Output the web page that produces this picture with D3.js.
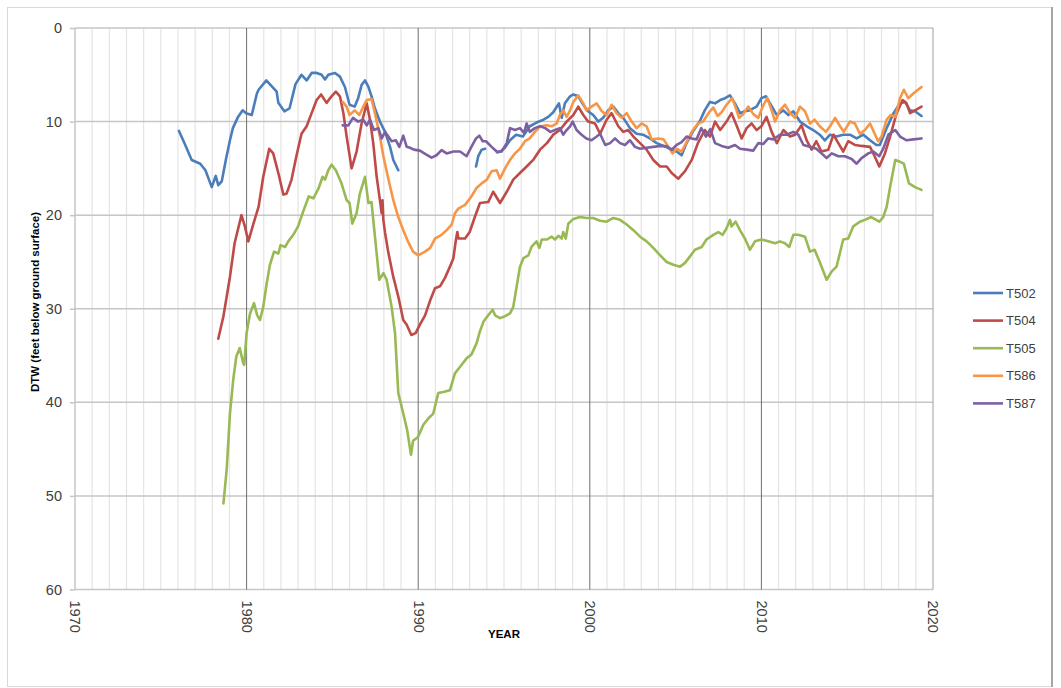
<!DOCTYPE html>
<html>
<head>
<meta charset="utf-8">
<script src="https://cdn.jsdelivr.net/npm/d3@7"></script>
<style>
  body { margin: 0; background: #fff; }
  svg { display: block; font-family: "Liberation Sans", Arial, sans-serif; }
</style>
</head>
<body>
<svg id="chart" width="1061" height="688"></svg>
<script>
// well names, in legend order
var wells = ["T502", "T504", "T505", "T586", "T587"];

// [year, depth to water in ft]; null = gap in record
var T502 = [
  [1976.06,11.0],[1976.4,12.4],[1976.8,14.1],[1977.3,14.5],[1977.6,15.2],[1977.97,17.0],[1978.2,15.8],
  [1978.35,16.8],[1978.55,16.4],[1978.8,14.0],[1979.03,12.0],[1979.2,10.7],[1979.5,9.5],[1979.77,8.8],
  [1979.97,9.1],[1980.3,9.3],[1980.6,7.0],[1980.7,6.6],[1981.15,5.6],[1981.5,6.3],[1981.75,6.8],
  [1981.85,8.0],[1982.2,8.9],[1982.5,8.6],[1982.85,6.0],[1983.2,5.0],[1983.5,5.6],[1983.79,4.8],
  [1984.08,4.8],[1984.37,5.0],[1984.57,5.5],[1984.76,5.0],[1985.15,4.8],[1985.44,5.2],[1985.73,6.3],
  [1986.0,8.2],[1986.3,8.4],[1986.5,7.5],[1986.7,6.1],[1986.9,5.6],[1987.1,6.3],[1987.28,7.3],
  [1987.48,8.6],[1987.77,10.0],[1988.07,11.1],[1988.36,12.7],[1988.55,14.1],[1988.84,15.2],
  null,
  [1993.37,14.8],[1993.5,13.7],[1993.7,13.0],[1993.9,12.9],
  null,
  [1994.6,13.3],[1994.8,13.2],[1995.05,12.8],[1995.35,12.0],[1995.7,11.4],[1996.1,11.6],[1996.5,10.5],
  [1996.9,10.1],[1997.3,9.8],[1997.58,9.5],[1997.87,9.0],[1998.2,8.05],[1998.36,9.6],[1998.55,8.05],
  [1998.85,7.3],[1999.04,7.1],[1999.33,7.3],[1999.62,8.2],[1999.9,8.9],[2000.2,9.3],[2000.5,10.0],
  [2000.78,9.6],[2001.07,8.8],[2001.37,8.4],[2001.66,9.1],[2001.95,9.6],[2002.34,10.7],[2002.73,11.3],
  [2003.1,11.4],[2003.5,11.8],[2003.9,12.3],[2004.3,12.6],[2004.67,12.9],[2005.06,13.2],[2005.35,13.6],
  [2005.64,12.3],[2006.03,11.0],[2006.4,10.0],[2006.7,8.8],[2007.0,7.9],[2007.3,8.05],[2007.6,7.7],
  [2007.88,7.5],[2008.17,7.2],[2008.46,8.05],[2008.75,9.1],[2009.04,8.9],[2009.3,8.8],[2009.72,8.4],
  [2010.0,7.5],[2010.27,7.3],[2010.5,8.05],[2010.9,9.3],[2011.28,8.8],[2011.57,9.3],[2011.86,8.9],
  [2012.25,10.0],[2012.64,10.5],[2013.02,10.9],[2013.4,11.4],[2013.7,12.0],[2014.0,11.4],[2014.38,11.6],
  [2014.77,11.4],[2015.16,11.4],[2015.55,11.8],[2015.94,11.4],[2016.33,12.0],[2016.7,12.5],[2016.9,12.5],
  [2017.3,10.7],[2017.7,9.1],[2018.08,8.05],[2018.37,7.9],[2018.66,8.8],[2018.95,8.9],[2019.33,9.4]
];

var T504 = [
  [1978.35,33.2],[1978.65,30.8],[1979.03,26.6],[1979.3,23.0],[1979.7,20.0],[1979.9,21.2],[1980.1,22.8],
  [1980.4,20.9],[1980.7,19.1],[1980.97,15.9],[1981.32,12.9],[1981.55,13.4],[1981.85,15.5],[1982.14,17.8],
  [1982.33,17.7],[1982.62,16.2],[1982.9,13.7],[1983.2,11.3],[1983.5,10.5],[1983.79,9.1],[1984.08,7.7],
  [1984.34,7.1],[1984.66,8.0],[1984.95,7.3],[1985.2,6.8],[1985.44,7.3],[1985.64,9.1],[1985.83,11.6],
  [1986.12,15.0],[1986.41,13.2],[1986.7,10.2],[1987.0,8.05],[1987.19,9.8],[1987.38,12.3],[1987.58,15.9],
  [1987.77,18.4],[1987.87,19.8],[1987.92,18.4],[1987.97,20.5],[1988.07,21.9],[1988.26,24.0],[1988.55,26.6],
  [1988.84,28.7],[1989.13,31.2],[1989.33,31.7],[1989.6,32.8],[1989.85,32.6],[1990.1,31.7],[1990.4,30.7],
  [1990.7,29.1],[1990.98,27.8],[1991.27,27.6],[1991.56,26.7],[1991.85,25.5],[1992.05,24.6],[1992.2,22.6],
  [1992.28,21.8],[1992.34,22.5],[1992.73,22.5],[1993.0,21.8],[1993.3,20.2],[1993.6,18.7],[1994.08,18.6],
  [1994.37,17.5],[1994.77,18.7],[1995.16,17.5],[1995.54,16.2],[1995.93,15.5],[1996.32,14.8],[1996.7,14.1],
  [1997.1,13.0],[1997.5,12.3],[1997.87,11.4],[1998.26,10.9],[1998.65,10.0],[1999.04,9.3],[1999.33,8.4],
  [1999.62,9.3],[1999.9,10.0],[2000.3,10.2],[2000.6,11.3],[2000.98,9.8],[2001.27,9.1],[2001.66,10.5],
  [2001.95,11.1],[2002.24,10.9],[2002.54,11.6],[2002.93,12.3],[2003.31,13.0],[2003.7,14.1],[2004.1,14.8],
  [2004.48,14.8],[2004.77,15.5],[2005.16,16.1],[2005.55,15.3],[2005.94,14.1],[2006.3,12.3],[2006.7,10.9],
  [2007.0,11.6],[2007.3,10.0],[2007.6,10.9],[2007.97,10.0],[2008.26,9.1],[2008.55,10.4],[2008.85,11.8],
  [2009.14,10.7],[2009.43,10.2],[2009.72,10.9],[2010.0,10.5],[2010.3,9.5],[2010.6,11.1],[2010.9,12.3],
  [2011.28,10.9],[2011.67,11.6],[2011.96,11.4],[2012.34,10.4],[2012.64,12.0],[2012.93,13.0],[2013.2,12.1],
  [2013.5,13.2],[2013.9,13.0],[2014.2,11.4],[2014.48,12.3],[2014.77,13.2],[2015.06,12.1],[2015.45,12.5],
  [2015.84,12.6],[2016.33,12.7],[2016.6,13.7],[2016.87,14.8],[2017.2,13.4],[2017.5,11.6],[2017.88,9.1],
  [2018.23,7.7],[2018.46,8.05],[2018.66,9.1],[2018.95,8.8],[2019.33,8.4]
];

var T505 = [
  [1978.65,50.8],[1978.84,47.2],[1979.03,41.2],[1979.22,37.6],[1979.4,35.1],[1979.6,34.2],[1979.8,35.8],
  [1979.86,36.0],[1980.0,32.6],[1980.2,30.5],[1980.43,29.4],[1980.62,30.7],[1980.78,31.2],[1980.97,29.8],
  [1981.17,27.3],[1981.36,25.3],[1981.6,23.9],[1981.85,24.1],[1981.98,23.2],[1982.24,23.4],[1982.43,22.8],
  [1982.72,22.1],[1983.0,21.2],[1983.3,19.6],[1983.62,18.0],[1983.89,18.2],[1984.18,17.2],[1984.43,15.9],
  [1984.57,16.2],[1984.76,15.2],[1984.95,14.6],[1985.2,15.2],[1985.53,16.6],[1985.83,18.4],[1986.0,18.7],
  [1986.16,20.9],[1986.41,19.8],[1986.6,17.7],[1986.9,15.9],[1987.0,17.3],[1987.1,18.7],[1987.28,18.6],
  [1987.42,21.2],[1987.58,24.1],[1987.73,26.9],[1987.97,26.2],[1988.16,26.9],[1988.45,29.8],[1988.65,32.6],
  [1988.84,39.0],[1989.13,41.2],[1989.36,43.0],[1989.58,45.6],[1989.7,44.1],[1989.99,43.7],[1990.3,42.4],
  [1990.6,41.7],[1990.88,41.2],[1991.17,39.0],[1991.46,38.9],[1991.85,38.7],[1992.14,36.9],[1992.44,36.2],
  [1992.82,35.3],[1993.1,34.9],[1993.4,33.7],[1993.6,32.4],[1993.8,31.4],[1994.08,30.7],[1994.34,30.1],
  [1994.48,30.7],[1994.77,31.0],[1995.06,30.8],[1995.35,30.5],[1995.54,29.8],[1995.74,27.6],[1995.93,25.5],
  [1996.13,24.6],[1996.42,24.3],[1996.6,23.4],[1996.9,22.8],[1997.06,23.5],[1997.2,22.6],[1997.5,22.6],
  [1997.78,22.3],[1997.97,22.6],[1998.17,22.2],[1998.36,22.5],[1998.45,21.8],[1998.6,22.5],[1998.75,20.9],
  [1999.04,20.4],[1999.43,20.2],[1999.8,20.3],[2000.2,20.3],[2000.6,20.6],[2000.98,20.7],[2001.37,20.3],
  [2001.76,20.5],[2002.15,21.0],[2002.54,21.6],[2002.93,22.3],[2003.31,22.8],[2003.7,23.5],[2004.1,24.3],
  [2004.48,25.0],[2004.87,25.3],[2005.26,25.5],[2005.55,25.1],[2005.84,24.4],[2006.13,23.7],[2006.52,23.4],
  [2006.8,22.6],[2007.2,22.1],[2007.49,21.8],[2007.74,22.1],[2007.97,21.4],[2008.17,20.5],[2008.26,21.2],
  [2008.5,20.7],[2008.75,21.6],[2009.04,22.5],[2009.33,23.7],[2009.63,22.8],[2010.0,22.6],[2010.4,22.8],
  [2010.8,23.0],[2011.08,22.8],[2011.37,23.0],[2011.62,23.4],[2011.86,22.1],[2012.15,22.1],[2012.54,22.3],
  [2012.83,23.9],[2013.1,23.7],[2013.4,25.0],[2013.8,26.9],[2014.1,26.0],[2014.38,25.5],[2014.77,22.6],
  [2015.06,22.5],[2015.35,21.2],[2015.74,20.7],[2016.03,20.5],[2016.4,20.2],[2016.87,20.7],[2017.1,20.2],
  [2017.3,19.1],[2017.5,17.0],[2017.8,14.1],[2018.08,14.3],[2018.3,14.5],[2018.6,16.6],[2018.95,17.0],
  [2019.33,17.3]
];

var T586 = [
  [1985.6,7.9],[1985.83,8.4],[1986.0,9.3],[1986.3,8.8],[1986.57,9.3],[1986.8,8.4],[1987.0,7.7],[1987.28,7.6],
  [1987.48,9.1],[1987.77,11.6],[1987.97,13.7],[1988.26,16.1],[1988.55,18.4],[1988.84,20.2],[1989.13,21.6],
  [1989.4,22.8],[1989.7,23.9],[1990.0,24.3],[1990.4,23.9],[1990.7,23.5],[1990.98,22.5],[1991.36,22.1],
  [1991.66,21.6],[1991.95,21.0],[1992.14,19.8],[1992.34,19.3],[1992.73,18.9],[1993.1,18.0],[1993.4,17.1],
  [1993.7,16.6],[1994.0,16.2],[1994.28,15.3],[1994.57,15.2],[1994.77,16.1],[1995.06,15.0],[1995.35,14.1],
  [1995.64,13.4],[1995.93,12.9],[1996.22,12.1],[1996.5,11.8],[1996.8,11.1],[1997.1,10.5],[1997.5,10.4],
  [1997.78,10.5],[1998.07,10.2],[1998.26,9.3],[1998.45,8.8],[1998.65,9.5],[1998.85,8.8],[1999.04,7.9],
  [1999.33,7.2],[1999.62,8.05],[1999.8,8.8],[2000.1,8.4],[2000.4,8.05],[2000.7,8.9],[2000.98,9.3],
  [2001.27,8.2],[2001.56,9.1],[2001.86,9.6],[2002.15,9.1],[2002.44,10.0],[2002.73,10.7],[2003.02,10.2],
  [2003.31,10.5],[2003.6,11.9],[2004.0,11.8],[2004.3,11.9],[2004.58,12.7],[2004.82,13.4],[2005.06,12.9],
  [2005.35,13.2],[2005.64,12.2],[2005.94,11.1],[2006.3,10.2],[2006.6,10.0],[2007.0,8.9],[2007.2,8.5],
  [2007.45,9.4],[2007.68,9.0],[2007.97,8.2],[2008.3,7.5],[2008.5,8.5],[2008.7,9.6],[2008.94,9.2],
  [2009.24,8.4],[2009.53,9.2],[2009.82,9.6],[2010.1,8.3],[2010.34,7.5],[2010.6,8.8],[2010.8,10.0],
  [2011.08,8.8],[2011.37,8.2],[2011.67,9.1],[2011.96,9.6],[2012.25,8.4],[2012.54,8.9],[2012.83,10.2],
  [2013.1,9.8],[2013.4,10.5],[2013.76,11.1],[2014.0,10.5],[2014.3,9.6],[2014.55,10.4],[2014.8,11.1],
  [2015.16,10.0],[2015.45,10.2],[2015.74,11.3],[2016.03,10.9],[2016.33,10.2],[2016.6,11.3],[2016.8,12.1],
  [2017.0,11.6],[2017.3,9.8],[2017.53,9.3],[2017.8,9.5],[2018.08,7.5],[2018.3,6.6],[2018.56,7.5],
  [2018.85,7.0],[2019.33,6.3]
];

var T587 = [
  [1985.6,10.4],[1985.93,10.4],[1986.2,9.6],[1986.5,10.0],[1986.8,9.8],[1987.0,10.4],[1987.19,9.8],
  [1987.42,10.9],[1987.68,10.7],[1987.87,11.8],[1988.07,11.1],[1988.26,11.6],[1988.45,12.1],[1988.7,12.0],
  [1988.9,12.7],[1989.13,11.5],[1989.33,12.7],[1989.52,12.8],[1989.75,13.0],[1990.1,13.1],[1990.45,13.5],
  [1990.78,13.85],[1991.07,13.6],[1991.36,13.05],[1991.66,13.4],[1992.05,13.2],[1992.44,13.2],[1992.82,13.7],
  [1993.1,12.7],[1993.37,11.8],[1993.56,11.5],[1993.76,12.1],[1993.95,12.1],[1994.28,12.7],[1994.57,13.2],
  [1994.86,13.2],[1995.16,12.3],[1995.35,10.7],[1995.64,10.9],[1995.93,10.7],[1996.17,11.2],[1996.32,10.2],
  [1996.5,11.1],[1996.8,10.7],[1997.1,10.5],[1997.4,10.7],[1997.7,11.1],[1997.97,10.9],[1998.26,10.7],
  [1998.45,11.4],[1998.65,10.9],[1998.85,10.5],[1999.0,10.0],[1999.23,10.9],[1999.52,11.4],[1999.8,11.8],
  [2000.1,12.0],[2000.4,11.6],[2000.6,11.3],[2000.9,12.5],[2001.18,12.3],[2001.47,11.8],[2001.76,12.3],
  [2002.05,12.5],[2002.34,12.0],[2002.63,12.7],[2002.93,12.9],[2003.31,12.8],[2003.7,12.7],[2004.1,12.6],
  [2004.48,12.65],[2004.77,13.0],[2005.06,12.5],[2005.35,12.2],[2005.64,11.6],[2005.94,11.8],[2006.22,11.9],
  [2006.5,10.7],[2006.77,11.6],[2007.02,10.8],[2007.3,12.3],[2007.68,12.6],[2008.07,12.8],[2008.46,12.5],
  [2008.75,12.9],[2009.14,13.0],[2009.53,13.1],[2009.82,12.3],[2010.1,12.4],[2010.4,11.8],[2010.7,11.9],
  [2011.08,11.4],[2011.47,11.4],[2011.86,11.1],[2012.15,11.4],[2012.45,12.5],[2012.83,12.7],[2013.2,12.9],
  [2013.5,13.4],[2013.8,13.9],[2014.1,13.4],[2014.48,13.7],[2014.87,13.7],[2015.26,14.0],[2015.55,14.5],
  [2015.84,13.9],[2016.23,13.4],[2016.52,13.2],[2016.87,13.7],[2017.1,12.9],[2017.4,11.4],[2017.8,10.9],
  [2018.08,11.6],[2018.46,12.0],[2018.85,11.9],[2019.33,11.8]
];

var yearTicks = [1970, 1980, 1990, 2000, 2010, 2020];
var depthTicks = [0, 10, 20, 30, 40, 50, 60];

var seriesData = [T502, T504, T505, T586, T587];
var colors = ["#4a7ebb", "#be4b48", "#98b954", "#f79646", "#7d60a0"];

var svg = d3.select("#chart");

// outer chart border
svg.append("rect")
    .attr("x", 7.5).attr("y", 7.5)
    .attr("width", 1044).attr("height", 679)
    .attr("fill", "#fff")
    .attr("stroke", "#d9d9d9");
svg.append("line")
    .attr("x1", 1052).attr("x2", 1052)
    .attr("y1", 7).attr("y2", 687)
    .attr("stroke", "#a6a6a6").attr("stroke-width", 2);

var x = d3.scaleLinear().domain([1970, 2020]).range([75, 933]);
var y = d3.scaleLinear().domain([0, 60]).range([28, 589.5]);

// minor vertical gridlines, one per year
var grid = svg.append("g");
grid.selectAll(".minor")
    .data(d3.range(1971, 2020).filter(function (d) { return d % 10 !== 0; }))
    .enter().append("line")
    .attr("x1", function (d) { return x(d); })
    .attr("x2", function (d) { return x(d); })
    .attr("y1", y(0)).attr("y2", y(60))
    .attr("stroke", "#e4e4e4").attr("stroke-width", 1.2);

// horizontal gridlines
grid.selectAll(".hgrid")
    .data(depthTicks)
    .enter().append("line")
    .attr("x1", x(1970)).attr("x2", x(2020))
    .attr("y1", function (d) { return y(d); })
    .attr("y2", function (d) { return y(d); })
    .attr("stroke", "#c6c6c6").attr("stroke-width", 1.5);

// major vertical gridlines (decades)
grid.selectAll(".major")
    .data(yearTicks)
    .enter().append("line")
    .attr("x1", function (d) { return x(d); })
    .attr("x2", function (d) { return x(d); })
    .attr("y1", y(0)).attr("y2", y(60))
    .attr("stroke", function (d) { return d === 1970 ? "#c6c6c6" : (d === 2020 ? "#a0a0a0" : "#6f6f6f"); })
    .attr("stroke-width", function (d) { return d === 1970 ? 1.5 : 1; });

// y axis
var yAxis = svg.append("g")
    .attr("transform", "translate(" + x(1970) + ",0)")
    .call(d3.axisLeft(y).tickValues(depthTicks).tickSize(5).tickPadding(8));
yAxis.select(".domain").remove();
yAxis.selectAll(".tick line").attr("stroke", "#c6c6c6").attr("stroke-width", 1.5);
yAxis.selectAll(".tick text")
    .attr("fill", "#404040")
    .style("font-size", "14.5px");

// x axis with rotated year labels
var xAxis = svg.append("g")
    .attr("transform", "translate(0," + y(60) + ")")
    .call(d3.axisBottom(x).tickValues(yearTicks).tickFormat(d3.format("d")).tickSize(0));
xAxis.select(".domain").remove();
xAxis.selectAll(".tick text")
    .attr("fill", "#404040")
    .style("font-size", "14.5px")
    .attr("text-anchor", "start")
    .attr("transform", "rotate(90)")
    .attr("x", 11)
    .attr("y", 0)
    .attr("dy", "0.35em");

// axis titles
svg.append("text")
    .attr("x", 504).attr("y", 638)
    .attr("text-anchor", "middle")
    .style("font-size", "11.5px")
    .style("font-weight", "bold")
    .attr("fill", "#000")
    .text("YEAR");

svg.append("text")
    .attr("transform", "translate(39,302) rotate(-90)")
    .attr("text-anchor", "middle")
    .style("font-size", "11.5px")
    .style("font-weight", "bold")
    .attr("fill", "#000")
    .text("DTW (feet below ground surface)");

// series lines
var line = d3.line()
    .defined(function (d) { return d !== null; })
    .x(function (d) { return x(d[0]); })
    .y(function (d) { return y(d[1]); });

svg.append("g").selectAll("path")
    .data(seriesData)
    .enter().append("path")
    .attr("d", line)
    .attr("fill", "none")
    .attr("stroke", function (d, i) { return colors[i]; })
    .attr("stroke-width", 2.6)
    .attr("stroke-linejoin", "round")
    .attr("stroke-linecap", "round");

// legend
var legend = svg.append("g");
wells.forEach(function (name, i) {
    var ly = 293 + i * 27.6;
    legend.append("line")
        .attr("x1", 973).attr("x2", 1003)
        .attr("y1", ly).attr("y2", ly)
        .attr("stroke", colors[i])
        .attr("stroke-width", 2.6);
    legend.append("text")
        .attr("x", 1006)
        .attr("y", ly)
        .attr("dy", "0.35em")
        .style("font-size", "13px")
        .attr("fill", "#404040")
        .text(name);
});
</script>
</body>
</html>
